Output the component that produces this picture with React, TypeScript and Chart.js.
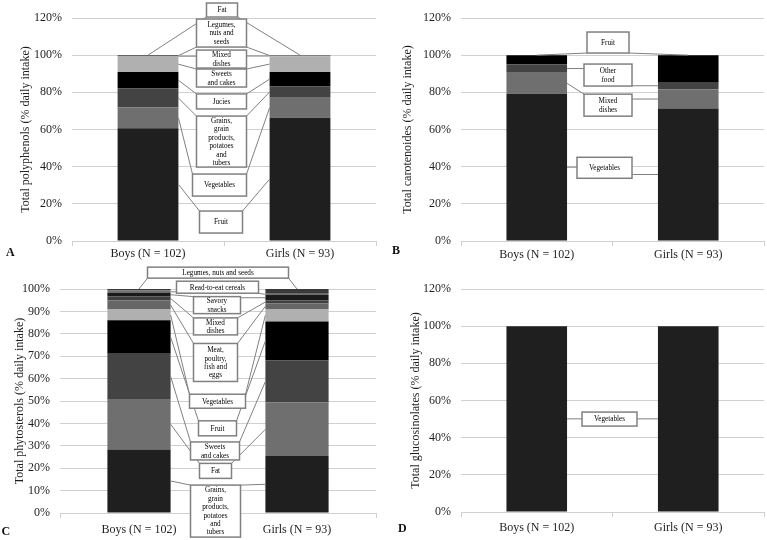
import React, { useEffect, useRef } from 'react';
import { Chart, registerables } from 'chart.js';

Chart.register(...registerables);

// ---------- data ----------
const groups = ['Boys (N = 102)', 'Girls (N = 93)'];

// A: polyphenols (stack order bottom -> top)
const polyphenolSources = ['Fruit', 'Vegetables', 'Grains, grain products, potatoes and tubers', 'Jucies', 'Sweets and cakes', 'Mixed dishes', 'Legumes, nuts and seeds', 'Fat'];
const polyphenolBoys = [60.7, 11.2, 10.1, 9.0, 8.3, 0.3, 0.3, 0.1];
const polyphenolGirls = [66.3, 10.8, 6.1, 7.8, 8.4, 0.3, 0.2, 0.1];

// B: carotenoides
const carotenoidSources = ['Vegetables', 'Mixed dishes', 'Other food', 'Fruit'];
const carotenoidBoys = [79.2, 11.3, 4.6, 4.9];
const carotenoidGirls = [71.3, 10.2, 4.1, 14.4];

// C: phytosterols
const phytosterolSources = ['Grains, grain products, potatoes and tubers', 'Fat', 'Sweets and cakes', 'Fruit', 'Vegetables', 'Meat, poultry, fish and eggs', 'Mixed dishes', 'Savory snacks', 'Read-to-eat cereals', 'Legumes, nuts and seeds'];
const phytosterolBoys = [28.4, 22.5, 20.2, 14.9, 4.8, 4.1, 1.8, 1.5, 1.1, 0.7];
const phytosterolGirls = [25.4, 23.9, 18.8, 17.4, 5.6, 2.4, 1.4, 2.4, 0.6, 2.1];

// D: glucosinolates
const glucosinolateSources = ['Vegetables'];
const glucosinolateBoys = [100];
const glucosinolateGirls = [100];

// ---------- styles ----------
const SERIF = '"Liberation Serif", "Times New Roman", serif';
const TEXT = '#1e1e1e';
const GRID = '#d0d0d0';
const LEADER = '#808080';

const colorsA = ['#1f1f1f', '#6f6f6f', '#434343', '#000000', '#b0b0b0', '#6a6a6a', '#3f3f3f', '#1a1a1a'];
const colorsB = ['#1f1f1f', '#6f6f6f', '#434343', '#000000'];
const colorsC = ['#1f1f1f', '#6f6f6f', '#434343', '#000000', '#b0b0b0', '#666666', '#404040', '#1a1a1a', '#707070', '#3a3a3a'];
const colorsD = ['#1f1f1f'];

type Callout = { series: number; lines: string[]; cy: number; w: number; h: number; dx: number; anchor?: 'top' | 'side' };

const calloutsA: Callout[] = [
  { series: 7, lines: ['Fat'], cy: 124.3, w: 31, h: 14, dx: -2, anchor: 'top' },
  { series: 6, lines: ['Legumes,', 'nuts and', 'seeds'], cy: 111.9, w: 50, h: 28, dx: -2.5 },
  { series: 5, lines: ['Mixed', 'dishes'], cy: 97.9, w: 50, h: 18, dx: -2.5 },
  { series: 4, lines: ['Sweets', 'and cakes'], cy: 87.7, w: 50, h: 18, dx: -2.5 },
  { series: 3, lines: ['Jucies'], cy: 75.1, w: 50, h: 15, dx: -2.5 },
  { series: 2, lines: ['Grains,', 'grain', 'products,', 'potatoes', 'and', 'tubers'], cy: 53.5, w: 50, h: 51, dx: -2.5 },
  { series: 1, lines: ['Vegetables'], cy: 30.1, w: 54, h: 22, dx: -4.5 },
  { series: 0, lines: ['Fruit'], cy: 10.2, w: 43, h: 22, dx: -3 },
];

const calloutsB: Callout[] = [
  { series: 3, lines: ['Fruit'], cy: 106.8, w: 42, h: 21, dx: -4.5, anchor: 'top' },
  { series: 2, lines: ['Other', 'food'], cy: 89.3, w: 48, h: 22, dx: -4.5 },
  { series: 1, lines: ['Mixed', 'dishes'], cy: 73.1, w: 48, h: 22, dx: -4.5 },
  { series: 0, lines: ['Vegetables'], cy: 39.4, w: 55, h: 21, dx: -8 },
];

const calloutsC: Callout[] = [
  { series: 9, lines: ['Legumes, nuts and seeds'], cy: 107.3, w: 141, h: 11, dx: 0, anchor: 'top' },
  { series: 8, lines: ['Read-to-eat cereals'], cy: 100.8, w: 82, h: 12, dx: -0.5 },
  { series: 7, lines: ['Savory', 'snacks'], cy: 92.8, w: 47, h: 17, dx: -1 },
  { series: 6, lines: ['Mixed', 'dishes'], cy: 83.3, w: 44, h: 17, dx: -2.5 },
  { series: 5, lines: ['Meat,', 'poultry,', 'fish and', 'eggs'], cy: 67.2, w: 44, h: 38, dx: -2.5 },
  { series: 4, lines: ['Vegetables'], cy: 49.9, w: 56, h: 14, dx: -0.5 },
  { series: 3, lines: ['Fruit'], cy: 37.8, w: 38, h: 15, dx: -0.5 },
  { series: 2, lines: ['Sweets', 'and cakes'], cy: 27.7, w: 49, h: 18, dx: -3 },
  { series: 1, lines: ['Fat'], cy: 18.8, w: 32, h: 15, dx: -2.5 },
  { series: 0, lines: ['Grains,', 'grain', 'products,', 'potatoes', 'and', 'tubers'], cy: 0.85, w: 50, h: 52, dx: -2.5 },
];

const calloutsD: Callout[] = [
  { series: 0, lines: ['Vegetables'], cy: 50, w: 55, h: 14, dx: -3 },
];

const calloutPlugin = {
  id: 'callouts',
  afterDatasetsDraw(chart: any, _args: any, opts: any) {
    const items: Callout[] = (opts && opts.items) || [];
    const ctx = chart.ctx;
    const xs = chart.scales.x;
    const ys = chart.scales.y;
    const midX = (xs.getPixelForValue(0) + xs.getPixelForValue(1)) / 2;
    ctx.save();
    const rects = items.map((it) => {
      const bx = midX + it.dx;
      const by = ys.getPixelForValue(it.cy);
      return { l: bx - it.w / 2, r: bx + it.w / 2, t: by - it.h / 2, b: by + it.h / 2, cx: bx, cy: by };
    });
    // leader lines
    ctx.strokeStyle = LEADER;
    ctx.lineWidth = 1;
    items.forEach((it, k) => {
      const r = rects[k];
      const meta = chart.getDatasetMeta(it.series);
      meta.data.forEach((bar: any, j: number) => {
        const p = bar.getProps(['x', 'y', 'base', 'width'], true);
        let ax: number;
        let ay: number;
        if (it.anchor === 'top') {
          ax = p.x;
          ay = Math.min(p.y, p.base);
        } else {
          ax = j === 0 ? p.x + p.width / 2 : p.x - p.width / 2;
          ay = (p.y + p.base) / 2;
        }
        const ex = Math.max(r.l, Math.min(ax, r.r));
        const ey = Math.max(r.t, Math.min(ay, r.b));
        ctx.beginPath();
        ctx.moveTo(ax, ay);
        ctx.lineTo(ex, ey);
        ctx.stroke();
      });
    });
    // boxes
    items.forEach((it, k) => {
      const r = rects[k];
      ctx.fillStyle = '#ffffff';
      ctx.fillRect(r.l, r.t, it.w, it.h);
      ctx.strokeStyle = LEADER;
      ctx.lineWidth = 1.5;
      ctx.strokeRect(r.l, r.t, it.w, it.h);
      ctx.fillStyle = '#000000';
      ctx.font = '7.2px ' + SERIF;
      ctx.textAlign = 'center';
      ctx.textBaseline = 'middle';
      const lh = 8.4;
      const start = r.cy - ((it.lines.length - 1) * lh) / 2;
      it.lines.forEach((ln, i) => ctx.fillText(ln, r.cx, start + i * lh + 0.5));
    });
    ctx.restore();
  },
};

type PanelCfg = {
  left: number; top: number; width: number; height: number;
  chartLeft: number; padRight: number; chartTop: number; chartBottom: number;
  yMax: number; yStep: number; title: string; titlePad: number; xPad: number;
  sources: string[]; boys: number[]; girls: number[]; colors: string[]; callouts: Callout[];
};

function Panel({ cfg }: { cfg: PanelCfg }) {
  const ref = useRef<HTMLCanvasElement>(null);
  useEffect(() => {
    if (!ref.current) return;
    const chart = new Chart(ref.current, {
      type: 'bar',
      data: {
        labels: groups,
        datasets: cfg.sources.map((s, i) => ({
          label: s,
          data: [cfg.boys[i], cfg.girls[i]],
          backgroundColor: cfg.colors[i],
          borderWidth: 0,
          barPercentage: 0.4,
          categoryPercentage: 1,
        })),
      },
      options: {
        responsive: false,
        animation: false,
        layout: { padding: { left: 0, right: cfg.padRight, top: cfg.chartTop, bottom: 0 } },
        plugins: {
          legend: { display: false },
          tooltip: { enabled: false },
          callouts: { items: cfg.callouts },
        } as any,
        scales: {
          x: {
            stacked: true,
            grid: { display: true, drawOnChartArea: false, drawTicks: true, tickLength: 5, color: GRID },
            border: { display: false },
            ticks: { padding: cfg.xPad, color: TEXT, font: { family: SERIF, size: 12 } },
            afterFit: (s: any) => { s.height = cfg.height - cfg.chartBottom; },
          },
          y: {
            stacked: true,
            min: 0,
            max: cfg.yMax,
            ticks: { stepSize: cfg.yStep, padding: 10, color: TEXT, font: { family: SERIF, size: 12 }, callback: (v: any) => v + '%' },
            grid: { color: GRID, drawTicks: false, lineWidth: 1 },
            border: { display: false },
            title: { display: true, text: cfg.title, color: TEXT, font: { family: SERIF, size: 12 }, padding: { top: cfg.titlePad, bottom: 0 } },
            afterFit: (s: any) => { s.width = cfg.chartLeft; },
          },
        } as any,
      },
      plugins: [calloutPlugin as any],
    });
    return () => chart.destroy();
  }, []);
  return (
    <canvas
      ref={ref}
      width={cfg.width}
      height={cfg.height}
      style={{ position: 'absolute', left: cfg.left, top: cfg.top, width: cfg.width, height: cfg.height }}
    />
  );
}

const panels: PanelCfg[] = [
  { left: 0, top: 0, width: 380, height: 262, chartLeft: 72, padRight: 4, chartTop: 18, chartBottom: 241, yMax: 120, yStep: 20, title: 'Total polyphenols (% daily intake)', titlePad: 18.8, xPad: 1, sources: polyphenolSources, boys: polyphenolBoys, girls: polyphenolGirls, colors: colorsA, callouts: calloutsA },
  { left: 380, top: 0, width: 387, height: 262, chartLeft: 81, padRight: 3, chartTop: 18, chartBottom: 241, yMax: 120, yStep: 20, title: 'Total carotenoides (% daily intake)', titlePad: 20.8, xPad: 2, sources: carotenoidSources, boys: carotenoidBoys, girls: carotenoidGirls, colors: colorsB, callouts: calloutsB },
  { left: 0, top: 262, width: 380, height: 278, chartLeft: 60, padRight: 4, chartTop: 27, chartBottom: 251, yMax: 100, yStep: 10, title: 'Total phytosterols (% daily intake)', titlePad: 12.8, xPad: 5, sources: phytosterolSources, boys: phytosterolBoys, girls: phytosterolGirls, colors: colorsC, callouts: calloutsC },
  { left: 380, top: 262, width: 387, height: 278, chartLeft: 81, padRight: 3, chartTop: 27, chartBottom: 250, yMax: 120, yStep: 20, title: 'Total glucosinolates (% daily intake)', titlePad: 28.8, xPad: 4, sources: glucosinolateSources, boys: glucosinolateBoys, girls: glucosinolateGirls, colors: colorsD, callouts: calloutsD },
];

const letters = [
  { t: 'A', left: 6, top: 246 },
  { t: 'B', left: 392, top: 244 },
  { t: 'C', left: 1.5, top: 525 },
  { t: 'D', left: 398, top: 521.5 },
];

export default function App() {
  return (
    <div style={{ position: 'absolute', left: 0, top: 0, width: 767, height: 540, background: '#ffffff', overflow: 'hidden' }}>
      {panels.map((p, i) => <Panel key={i} cfg={p} />)}
      {letters.map((l) => (
        <div key={l.t} style={{ position: 'absolute', left: l.left, top: l.top, fontFamily: SERIF, fontWeight: 'bold', fontSize: 12, lineHeight: '12px', color: '#111' }}>{l.t}</div>
      ))}
    </div>
  );
}
